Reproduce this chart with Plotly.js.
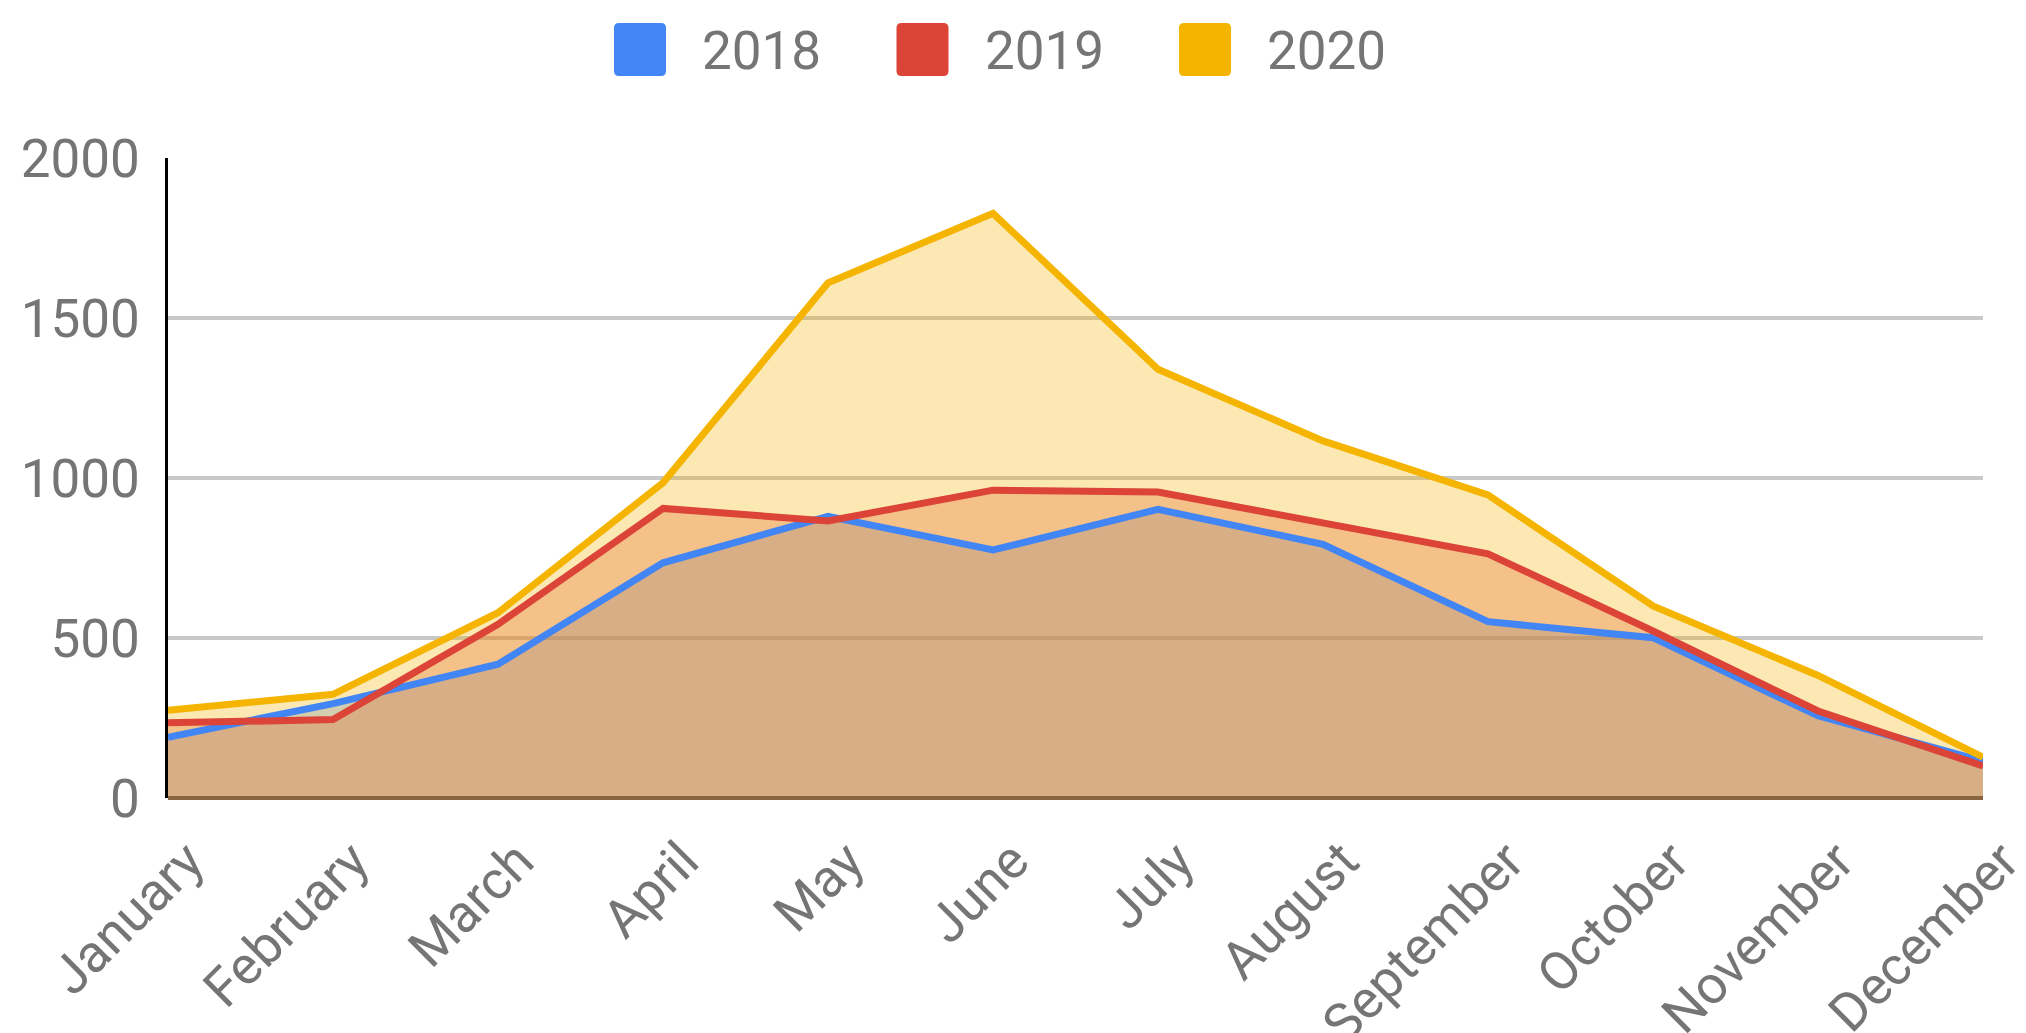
<!DOCTYPE html>
<html>
<head>
<meta charset="utf-8">
<script src="https://cdn.plot.ly/plotly-3.0.1.min.js"></script>
<style>
  html, body { margin: 0; padding: 0; background: #ffffff; }
  #chart { width: 2026px; height: 1033px; }
</style>
</head>
<body>
<div id="chart"></div>
<script>
// ---- data ----
const months = ["January", "February", "March", "April", "May", "June",
                "July", "August", "September", "October", "November", "December"];
const seriesNames = ["2018", "2019", "2020"];
const values2018 = [190, 295, 418, 735, 880, 775, 902, 793, 551, 501, 257, 115];
const values2019 = [235, 245, 543, 905, 866, 962, 956, 860, 763, 522, 272, 100];
const values2020 = [274, 324, 579, 985, 1610, 1827, 1340, 1116, 947, 600, 383, 128];
const yTicks = [0, 500, 1000, 1500, 2000];

// ---- styles ----
const lineColors = ["#4285F4", "#DB4437", "#F4B400"];
const fillColors = ["rgba(66,133,244,0.3)", "rgba(219,68,55,0.3)", "rgba(244,180,0,0.3)"];
const textColor = "#757575";
const fontFamily = "Roboto, 'Noto Sans', Arial, sans-serif";
const fontSize = 53;

const W = 2026, H = 1033;
const M = { l: 168, r: 43, t: 158, b: 235 };
const plotW = W - M.l - M.r, plotH = H - M.t - M.b;

const allValues = [values2018, values2019, values2020];

const traces = [];
// fills first (all below the lines)
allValues.forEach((vals, i) => {
  traces.push({
    type: "scatter", mode: "none", x: months, y: vals,
    fill: "tozeroy", fillcolor: fillColors[i],
    hoverinfo: "skip", showlegend: false
  });
});
// lines on top
allValues.forEach((vals, i) => {
  traces.push({
    type: "scatter", mode: "lines", x: months, y: vals, name: seriesNames[i],
    line: { color: lineColors[i], width: 7 },
    showlegend: false
  });
});

// ---- custom legend (large square swatches) ----
const legendStartPx = 614;   // left edge of first swatch
const legendPitchPx = 282.5;
const swatchW = 52, swatchH = 53, swatchGap = 36, legendCenterY = 49.5;
const px2paperX = px => (px - M.l) / plotW;
const px2paperY = py => (H - M.b - py) / plotH;

const shapes = [];
const annotations = [];
const r = 5;
const hw = swatchW / 2, hh = swatchH / 2;
const roundRect =
  `M ${-hw + r},${-hh} L ${hw - r},${-hh} Q ${hw},${-hh} ${hw},${-hh + r} ` +
  `L ${hw},${hh - r} Q ${hw},${hh} ${hw - r},${hh} L ${-hw + r},${hh} ` +
  `Q ${-hw},${hh} ${-hw},${hh - r} L ${-hw},${-hh + r} Q ${-hw},${-hh} ${-hw + r},${-hh} Z`;
seriesNames.forEach((name, i) => {
  const left = legendStartPx + i * legendPitchPx;
  shapes.push({
    type: "path", xref: "paper", yref: "paper",
    xsizemode: "pixel", ysizemode: "pixel",
    xanchor: px2paperX(left + hw), yanchor: px2paperY(legendCenterY),
    path: roundRect,
    fillcolor: lineColors[i], line: { width: 0 }
  });
  annotations.push({
    xref: "paper", yref: "paper",
    x: px2paperX(left + swatchW + swatchGap - 2), y: px2paperY(legendCenterY + 1),
    xanchor: "left", yanchor: "middle", showarrow: false,
    text: name, font: { family: fontFamily, size: fontSize, color: textColor }
  });
});

const layout = {
  width: W, height: H,
  margin: M,
  paper_bgcolor: "#ffffff", plot_bgcolor: "#ffffff",
  showlegend: false,
  font: { family: fontFamily, size: fontSize, color: textColor },
  xaxis: {
    type: "category",
    range: [0, months.length - 1],
    showgrid: false, zeroline: false, showline: false,
    ticks: "", tickangle: -45,
    ticklabelstandoff: 20, ticklabelshift: 20,
    tickfont: { family: fontFamily, size: fontSize, color: textColor },
    fixedrange: true
  },
  yaxis: {
    range: [0, 2000],
    tickvals: yTicks,
    showgrid: true, gridcolor: "#c8c8c8", gridwidth: 3.5,
    zeroline: true, zerolinecolor: "#8a6440", zerolinewidth: 3.5,
    zerolinelayer: "above traces",
    showline: true, linecolor: "#000000", linewidth: 3.5,
    ticks: "", ticklabelstandoff: 14,
    tickfont: { family: fontFamily, size: fontSize, color: textColor },
    fixedrange: true
  },
  shapes: shapes,
  annotations: annotations
};

Plotly.newPlot("chart", traces, layout, { displayModeBar: false, staticPlot: true });
</script>
</body>
</html>
